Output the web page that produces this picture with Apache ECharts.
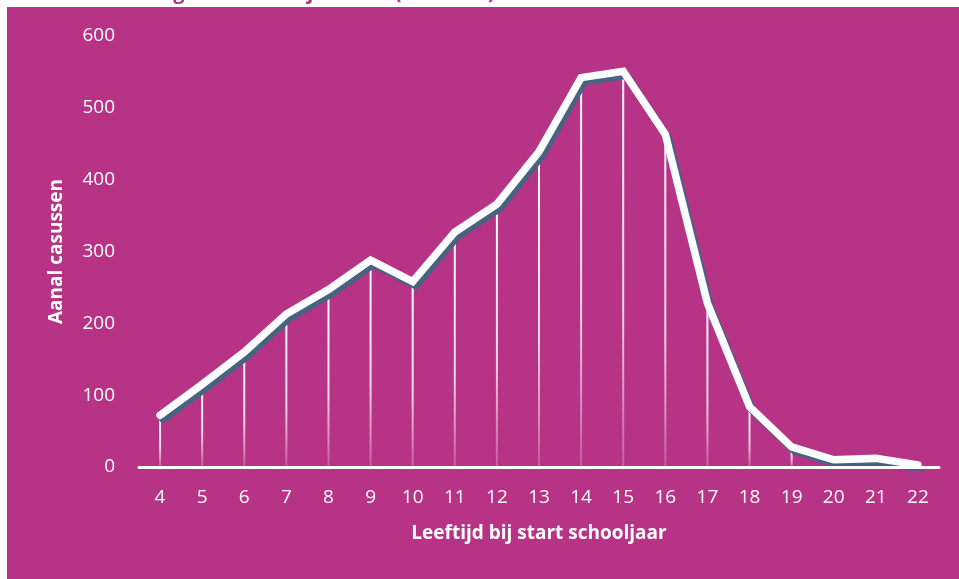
<!DOCTYPE html>
<html>
<head>
<meta charset="utf-8">
<script src="https://cdn.jsdelivr.net/npm/echarts@6/dist/echarts.min.js"></script>
<style>
  html, body { margin: 0; padding: 0; background: #ffffff; }
  #chart { width: 959px; height: 579px; }
</style>
</head>
<body>
<div id="chart"></div>
<script>
// Leeftijd bij start schooljaar (categorieën)
const ages = ['4','5','6','7','8','9','10','11','12','13','14','15','16','17','18','19','20','21','22'];
// Aantal casussen per leeftijd
const cases = [72, 115, 160, 213, 247, 288, 258, 327, 366, 439, 542, 551, 463, 228, 84, 28, 10, 12, 3];
// Waarden op de y-as
const yTicks = [0, 100, 200, 300, 400, 500, 600];

const PANEL = '#b73386';
const FONT = '"Open Sans", "DejaVu Sans", sans-serif';

const chart = echarts.init(document.getElementById('chart'), null, { renderer: 'canvas' });

chart.setOption({
  backgroundColor: '#ffffff',
  animation: false,
  graphic: [
    {
      type: 'text',
      left: 148,
      top: -17,
      style: {
        text: 'augustus 2014 - juli 2017 (n = 4.403)',
        fill: PANEL,
        font: 'bold 20px ' + FONT
      },
      z: -20
    },
    {
      type: 'rect',
      shape: { x: 7, y: 7, width: 952, height: 572 },
      style: { fill: PANEL },
      z: -10
    }
  ],
  grid: { left: 139, right: 20, top: 36, bottom: 112, containLabel: false },
  xAxis: {
    type: 'category',
    data: ages,
    boundaryGap: true,
    z: 5,
    name: 'Leeftijd bij start schooljaar',
    nameLocation: 'middle',
    nameGap: 57,
    nameTextStyle: { color: '#ffffff', fontFamily: FONT, fontWeight: 'bold', fontSize: 19 },
    axisLine: { show: true, lineStyle: { color: '#ffffff', width: 3 } },
    axisTick: { show: false },
    axisLabel: { color: '#ffffff', fontFamily: FONT, fontSize: 19, margin: 21 },
    splitLine: { show: false }
  },
  yAxis: {
    type: 'value',
    min: yTicks[0],
    max: yTicks[yTicks.length - 1],
    interval: 100,
    z: 5,
    name: 'Aanal casussen',
    nameLocation: 'middle',
    nameGap: 73,
    nameRotate: 90,
    nameTextStyle: { color: '#ffffff', fontFamily: FONT, fontWeight: 'bold', fontSize: 19 },
    axisLine: { show: false },
    axisTick: { show: false },
    axisLabel: { color: '#ffffff', fontFamily: FONT, fontSize: 19, margin: 24 },
    splitLine: { show: false }
  },
  series: [
    {
      // verticale lijnen van elk punt naar de as
      type: 'bar',
      data: cases,
      barWidth: 2,
      silent: true,
      z: 2,
      itemStyle: {
        color: new echarts.graphic.LinearGradient(0, 0, 0, 1, [
          { offset: 0, color: 'rgba(255,255,255,1)' },
          { offset: 0.6, color: 'rgba(255,255,255,0.8)' },
          { offset: 1, color: 'rgba(255,255,255,0.2)' }
        ])
      }
    },
    {
      type: 'line',
      data: cases,
      symbol: 'none',
      z: 3,
      lineStyle: {
        color: '#ffffff',
        width: 7.5,
        cap: 'round',
        join: 'miter',
        shadowColor: '#466480',
        shadowBlur: 0,
        shadowOffsetX: 3,
        shadowOffsetY: 4
      }
    }
  ]
});
</script>
</body>
</html>
